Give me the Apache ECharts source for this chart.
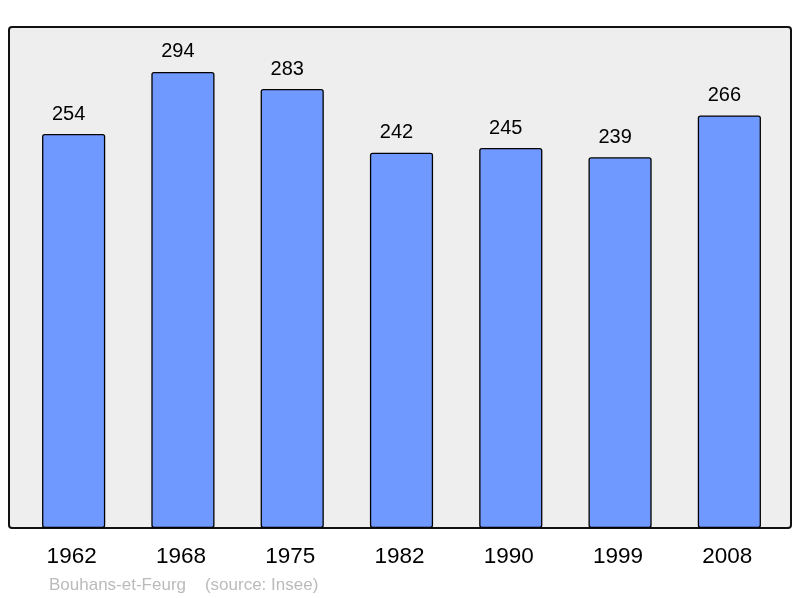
<!DOCTYPE html>
<html><head><meta charset="utf-8">
<script src="https://cdn.jsdelivr.net/npm/echarts@6/dist/echarts.min.js"></script>
<style>html,body{margin:0;padding:0;background:#fff}#c{width:800px;height:598px}</style>
</head><body><div id="c"></div>
<script>
const categories = ['1962','1968','1975','1982','1990','1999','2008'];
const population = [254, 294, 283, 242, 245, 239, 266];
const chart = echarts.init(document.getElementById('c'), null, {renderer:'canvas'});
chart.setOption({
  animation:false,
  backgroundColor:'#ffffff',
  graphic:[
    {type:'rect', z:-10, shape:{x:9, y:27, width:782, height:501, r:3},
     style:{fill:'#eeeeee', stroke:'#111111', lineWidth:2}},
    {type:'text', left:49, top:577, style:{text:'Bouhans-et-Feurg    (source: Insee)', fill:'#bbbbbb', font:'17px "Liberation Sans", Arial, sans-serif'}}
  ],
  grid:{left:19, width:765, top:27, bottom:70, containLabel:false},
  xAxis:{type:'category', data:categories,
    axisLine:{show:false}, axisTick:{show:false},
    axisLabel:{margin:17, padding:[0,4,0,0], color:'#000', fontSize:22.5, fontFamily:'"Liberation Sans", Arial, sans-serif'}},
  yAxis:{type:'value', min:0, max:323, show:false, splitLine:{show:false}},
  series:[{type:'bar', data:population, barWidth:'57.8%',
    itemStyle:{color:'#7099ff', borderColor:'#000', borderWidth:1.3, borderRadius:2},
    label:{show:true, position:'top', distance:10, offset:[-5,0], color:'#000', fontSize:20, fontFamily:'"Liberation Sans", Arial, sans-serif'}}]
});
</script></body></html>
